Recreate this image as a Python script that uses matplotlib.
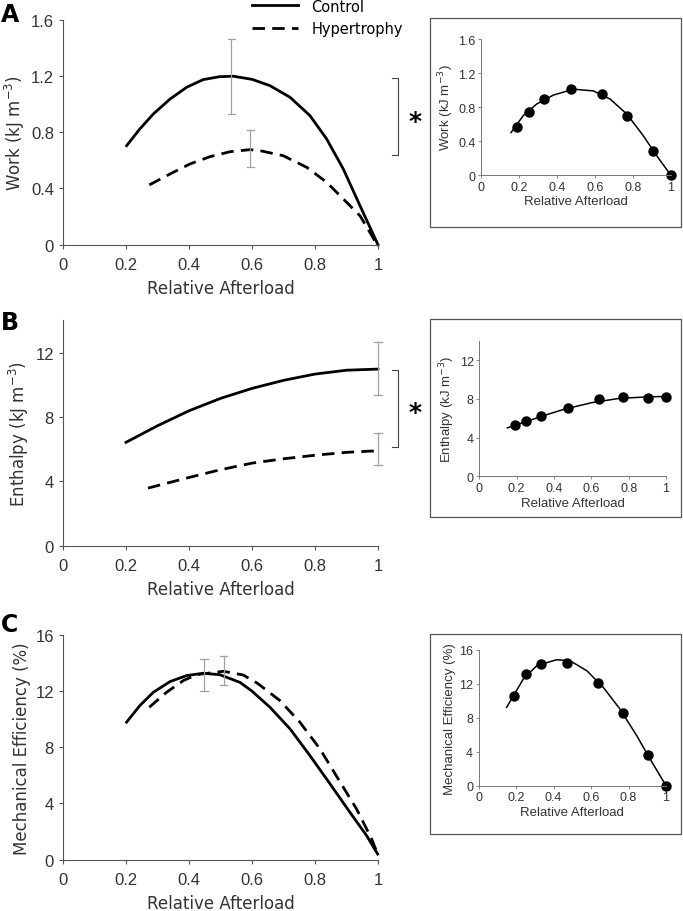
import matplotlib.pyplot as plt
from matplotlib.patches import Rectangle

# ---- main panels: curves ----
work_ctl_x = [0.202, 0.244, 0.287, 0.340, 0.393, 0.445, 0.498, 0.541, 0.600, 0.657,
              0.721, 0.784, 0.837, 0.890, 0.943, 1.0]
work_ctl_y = [0.704, 0.823, 0.930, 1.036, 1.12, 1.174, 1.195, 1.198, 1.176, 1.131,
              1.048, 0.918, 0.752, 0.538, 0.277, 0.0]
work_hyp_x = [0.274, 0.340, 0.403, 0.467, 0.530, 0.594, 0.625, 0.699, 0.774, 0.837,
              0.890, 0.943, 0.990]
work_hyp_y = [0.425, 0.503, 0.574, 0.626, 0.661, 0.676, 0.669, 0.633, 0.550, 0.444,
              0.325, 0.206, 0.028]

enth_ctl_x = [0.20, 0.30, 0.40, 0.50, 0.60, 0.70, 0.80, 0.90, 1.0]
enth_ctl_y = [6.42, 7.45, 8.38, 9.15, 9.77, 10.27, 10.66, 10.90, 10.97]
enth_hyp_x = [0.27, 0.40, 0.50, 0.60, 0.70, 0.80, 0.90, 1.0]
enth_hyp_y = [3.58, 4.24, 4.72, 5.13, 5.40, 5.62, 5.80, 5.90]

eff_ctl_x = [0.202, 0.244, 0.287, 0.340, 0.393, 0.445, 0.498, 0.562, 0.600, 0.657,
             0.721, 0.784, 0.848, 0.911, 0.964, 0.999]
eff_ctl_y = [9.79, 10.97, 11.92, 12.68, 13.11, 13.27, 13.17, 12.62, 12.0, 10.85,
             9.31, 7.41, 5.39, 3.37, 1.71, 0.40]
eff_hyp_x = [0.274, 0.329, 0.382, 0.424, 0.509, 0.572, 0.618, 0.689, 0.752, 0.816,
             0.874, 0.932, 0.980, 0.999]
eff_hyp_y = [10.85, 11.92, 12.75, 13.17, 13.41, 13.15, 12.55, 11.32, 9.79, 7.88,
             5.74, 3.61, 1.47, 0.40]

# error bars (x, low, high)
work_err = [(0.535, 0.93, 1.46), (0.595, 0.555, 0.815)]
enth_err = [(1.0, 9.35, 12.65), (1.0, 5.0, 7.0)]
eff_err = [(0.448, 12.0, 14.3), (0.51, 12.4, 14.5)]

# ---- insets: measured points and fitted curve ----
ins_x = [0.191, 0.25, 0.33, 0.474, 0.639, 0.768, 0.906, 1.0]
ins_work = [0.56, 0.745, 0.894, 1.012, 0.949, 0.698, 0.286, 0.0]
ins_enth = [5.33, 5.67, 6.26, 7.05, 7.98, 8.22, 8.05, 8.22]
ins_eff = [10.5, 13.1, 14.3, 14.43, 12.04, 8.5, 3.57, 0.0]

fit_work_x = [0.157, 0.222, 0.292, 0.380, 0.486, 0.591, 0.680, 0.768, 0.855, 0.926, 1.0]
fit_work_y = [0.50, 0.70, 0.835, 0.94, 1.01, 0.99, 0.894, 0.718, 0.463, 0.227, 0.0]
fit_enth_x = [0.15, 0.25, 0.35, 0.45, 0.60, 0.75, 0.90, 1.0]
fit_enth_y = [5.0, 5.65, 6.3, 6.9, 7.6, 8.05, 8.2, 8.25]
fit_eff_x = [0.149, 0.238, 0.310, 0.416, 0.487, 0.577, 0.665, 0.754, 0.844, 0.915, 1.0]
fit_eff_y = [9.22, 12.55, 14.12, 14.82, 14.71, 13.53, 11.58, 9.02, 5.88, 3.14, 0.0]

xticks = [0, 0.2, 0.4, 0.6, 0.8, 1]
xtlabels = ['0', '0.2', '0.4', '0.6', '0.8', '1']
spine_col = '#555555'
err_col = '#a0a0a0'
dash = (0, (4.5, 2.6))

fig = plt.figure(figsize=(6.83, 9.12), dpi=100)


def style_main(ax, ylim, yticks, ylabels, ylabel):
    ax.set_xlim(0, 1)
    ax.set_ylim(*ylim)
    ax.set_xticks(xticks)
    ax.set_xticklabels(xtlabels, family='Liberation Sans', fontsize=12)
    ax.set_yticks(yticks)
    ax.set_yticklabels(ylabels, family='Liberation Sans', fontsize=12)
    for s in ['top', 'right']:
        ax.spines[s].set_visible(False)
    for s in ['left', 'bottom']:
        ax.spines[s].set_color(spine_col)
    ax.tick_params(colors=spine_col, labelcolor='#333333', length=3, width=0.8)
    ax.tick_params(axis='x', pad=6)
    ax.set_xlabel('Relative Afterload', fontsize=12, color='#333333', labelpad=5)
    ax.set_ylabel(ylabel, fontsize=12, color='#333333', labelpad=3)


def style_inset(ax, ylim, yticks, ylabels, ylabel):
    ax.set_xlim(0, 1)
    ax.set_ylim(*ylim)
    ax.set_xticks(xticks)
    ax.set_xticklabels(xtlabels, family='Liberation Sans', fontsize=9)
    ax.set_yticks(yticks)
    ax.set_yticklabels(ylabels, family='Liberation Sans', fontsize=9)
    for s in ['top', 'right']:
        ax.spines[s].set_visible(False)
    for s in ['left', 'bottom']:
        ax.spines[s].set_color('#777777')
        ax.spines[s].set_linewidth(0.7)
    ax.tick_params(colors='#777777', labelcolor='#333333', length=2, width=0.6, pad=2)
    ax.set_xlabel('Relative Afterload', family='Liberation Sans', fontsize=9.5,
                  color='#333333', labelpad=2)
    ax.set_ylabel(ylabel, family='Liberation Sans', fontsize=9.5, color='#333333',
                  labelpad=2)


def errbars(ax, errs, cap):
    for x, lo, hi in errs:
        ax.plot([x, x], [lo, hi], color=err_col, lw=0.9, clip_on=False)
        ax.plot([x - cap, x + cap], [lo, lo], color=err_col, lw=0.9, clip_on=False)
        ax.plot([x - cap, x + cap], [hi, hi], color=err_col, lw=0.9, clip_on=False)


def bracket(ax, x, y0, y1, ys):
    ax.plot([x - 0.018, x, x, x - 0.018], [y1, y1, y0, y0], color='#444444',
            lw=0.8, clip_on=False)
    ax.text(x + 0.055, ys, '*', fontsize=18, fontweight='bold', ha='center',
            va='center', clip_on=False)


def curves(ax, cx, cy, hx, hy, label=False):
    ax.plot(cx, cy, color='black', lw=2, solid_joinstyle='round', clip_on=False,
            label='Control' if label else None)
    ax.plot(hx, hy, color='black', lw=2, ls=dash, clip_on=False,
            label='Hypertrophy' if label else None)


# panel A
axA = fig.add_axes([0.0922, 0.7306, 0.4612, 0.2467])
curves(axA, work_ctl_x, work_ctl_y, work_hyp_x, work_hyp_y, label=True)
errbars(axA, work_err, 0.012)
style_main(axA, (0, 1.6), [0, 0.4, 0.8, 1.2, 1.6], ['0', '0.4', '0.8', '1.2', '1.6'],
           'Work (kJ m$^{-3}$)')
bracket(axA, 1.063, 0.638, 1.185, 0.88)
axA.legend(loc='upper left', bbox_to_anchor=(0.58, 1.12), frameon=False, fontsize=10.5,
           handlelength=3.2, handletextpad=0.9, labelspacing=0.5, borderaxespad=0)

# panel B
axB = fig.add_axes([0.0922, 0.4005, 0.4612, 0.2472])
curves(axB, enth_ctl_x, enth_ctl_y, enth_hyp_x, enth_hyp_y)
errbars(axB, enth_err, 0.012)
style_main(axB, (0, 14), [0, 4, 8, 12], ['0', '4', '8', '12'], 'Enthalpy (kJ m$^{-3}$)')
bracket(axB, 1.063, 6.13, 10.9, 8.3)

# panel C
axC = fig.add_axes([0.0922, 0.0563, 0.4612, 0.2464])
curves(axC, eff_ctl_x, eff_ctl_y, eff_hyp_x, eff_hyp_y)
errbars(axC, eff_err, 0.012)
style_main(axC, (0, 16), [0, 4, 8, 12, 16], ['0', '4', '8', '12', '16'],
           'Mechanical Efficiency (%)')

# inset frames
for bottom, height in [(0.75, 0.2292), (0.432, 0.2171), (0.0844, 0.2193)]:
    fig.patches.append(Rectangle((0.6296, bottom), 0.3675, height, transform=fig.transFigure,
                                 fill=False, edgecolor='#555555', lw=0.9))

iA = fig.add_axes([0.7047, 0.8070, 0.2773, 0.1491])
iA.plot(fit_work_x, fit_work_y, color='black', lw=1.1)
iA.plot(ins_x, ins_work, 'o', color='black', ms=6.5, clip_on=False)
style_inset(iA, (0, 1.6), [0, 0.4, 0.8, 1.2, 1.6], ['0', '0.4', '0.8', '1.2', '1.6'],
            'Work (kJ m$^{-3}$)')

iB = fig.add_axes([0.7018, 0.4766, 0.2733, 0.1487])
iB.plot(fit_enth_x, fit_enth_y, color='black', lw=1.1)
iB.plot(ins_x, ins_enth, 'o', color='black', ms=6.5, clip_on=False)
style_inset(iB, (0, 14), [0, 4, 8, 12], ['0', '4', '8', '12'], 'Enthalpy (kJ m$^{-3}$)')

iC = fig.add_axes([0.7009, 0.1374, 0.2742, 0.1491])
iC.plot(fit_eff_x, fit_eff_y, color='black', lw=1.1)
iC.plot(ins_x, ins_eff, 'o', color='black', ms=6.5, clip_on=False)
style_inset(iC, (0, 16), [0, 4, 8, 12, 16], ['0', '4', '8', '12', '16'],
            'Mechanical Efficiency (%)')

# panel letters
for lbl, y in [('A', 0.984), ('B', 0.646), ('C', 0.315)]:
    fig.text(0.002, y, lbl, fontsize=17, fontweight='bold', va='center', ha='left')

fig.savefig('out.png', dpi=100)
